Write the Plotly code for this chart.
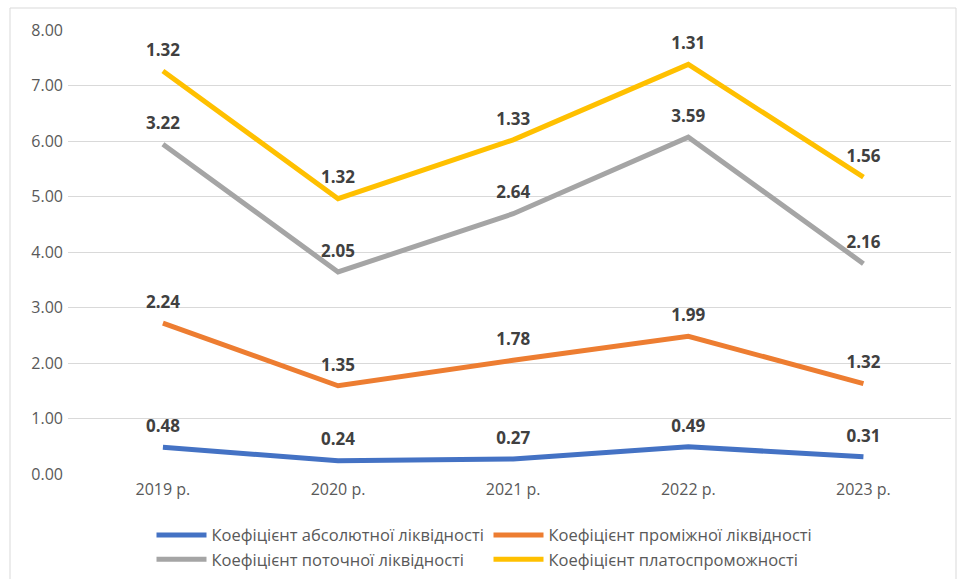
import plotly.graph_objects as go

years = ["2019 р.", "2020 р.", "2021 р.", "2022 р.", "2023 р."]
abs_liq = [0.48, 0.24, 0.27, 0.49, 0.31]
mid_liq = [2.24, 1.35, 1.78, 1.99, 1.32]
cur_liq = [3.22, 2.05, 2.64, 3.59, 2.16]
solv = [1.32, 1.32, 1.33, 1.31, 1.56]

names = ["Коефіцієнт абсолютної ліквідності", "Коефіцієнт проміжної ліквідності",
         "Коефіцієнт поточної ліквідності", "Коефіцієнт платоспроможності"]
colors = ["#4472C4", "#ED7D31", "#A5A5A5", "#FFC000"]
series = [abs_liq, mid_liq, cur_liq, solv]

FONT = "Open Sans, Liberation Sans, sans-serif"
xs = list(range(len(years)))
fig = go.Figure()
for name, col, vals in zip(names, colors, series):
    fig.add_trace(go.Scatter(
        x=xs, y=vals, name=name, stackgroup="one", fill="none",
        mode="lines+markers+text", line=dict(color=col, width=5),
        marker=dict(size=16, color="rgba(0,0,0,0)", line=dict(width=0)),
        text=[f"{v:.2f}" for v in vals], textposition="top center",
        texttemplate="<b>%{text}</b>",
        textfont=dict(family=FONT, size=17, color="#404040"),
        cliponaxis=False, hoverinfo="skip"))

W, H = 957, 579
L, R, T, B = 68, 951, 30, 474
fig.update_layout(
    width=W, height=H, paper_bgcolor="white", plot_bgcolor="white",
    margin=dict(l=0, r=0, t=0, b=0),
    showlegend=True,
    legend=dict(orientation="h", x=151.5 / W, xanchor="left", y=0.004, yanchor="bottom",
                entrywidth=272, itemwidth=50,
                font=dict(family=FONT, size=16.5, color="#595959"),
                tracegroupgap=0, traceorder="normal", bgcolor="rgba(0,0,0,0)"),
    font=dict(family=FONT, color="#595959"),
)
fig.update_xaxes(domain=[L / W, R / W], range=[-0.542, 4.5], tickmode="array", tickvals=xs,
                 ticktext=years, showgrid=False, zeroline=False, showline=False, ticks="",
                 ticklabelstandoff=4,
                 automargin=False, tickfont=dict(size=16, color="#595959"), fixedrange=True)
fig.update_yaxes(domain=[(H - B) / H, (H - T) / H], range=[0, 8], dtick=1, tickformat=".2f",
                 showgrid=True, gridcolor="#D9D9D9", gridwidth=1, zeroline=False, showline=False,
                 ticklabelstandoff=4,
                 automargin=False, ticks="", tickfont=dict(size=16, color="#595959"),
                 fixedrange=True)

fig.add_shape(type="rect", xref="paper", yref="paper",
              x0=10 / W, x1=956 / W, y0=-0.05, y1=(H - 8) / H,
              line=dict(color="#D9D9D9", width=1), fillcolor="rgba(0,0,0,0)", layer="below")

fig.write_html("out.html")
